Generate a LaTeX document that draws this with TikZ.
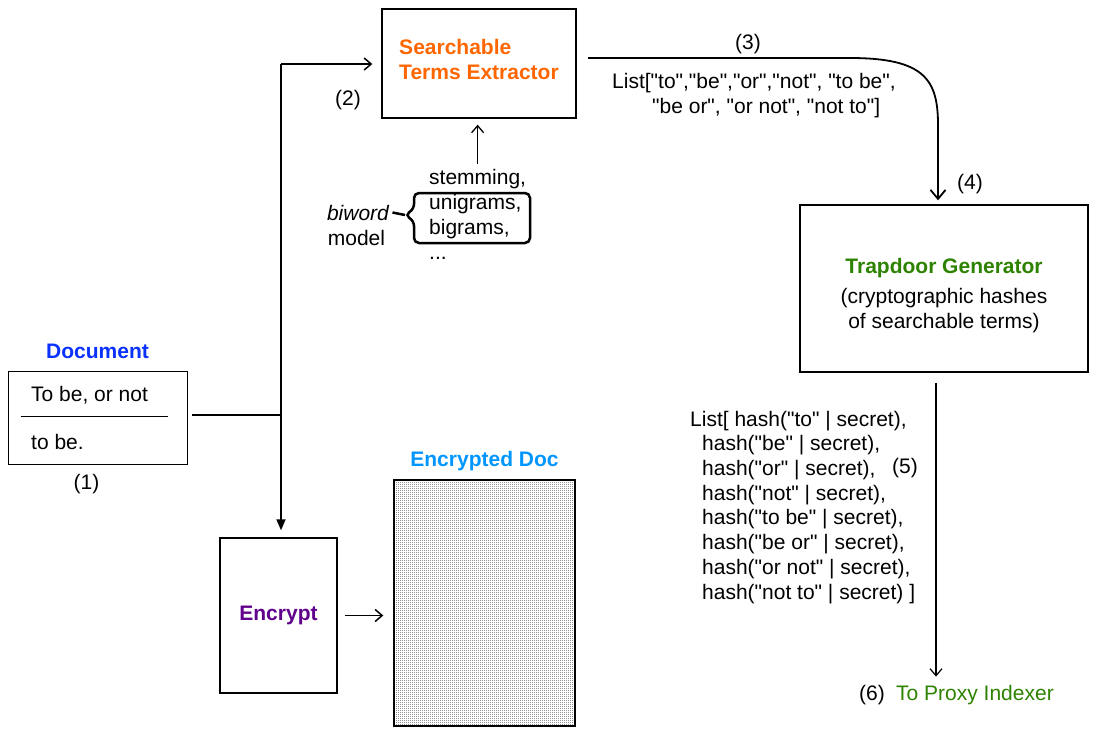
\documentclass[tikz,border=0pt]{standalone}
\usepackage{fontspec}
\setmainfont{Liberation Sans}[Ligatures=TeXOff]
\usepackage{tikz}
\usetikzlibrary{positioning}
\usetikzlibrary{arrows.meta}
\usetikzlibrary{patterns}

\definecolor{termorange}{RGB}{255,102,0}
\definecolor{docblue}{RGB}{10,50,255}
\definecolor{encblue}{RGB}{0,150,255}
\definecolor{encpurple}{RGB}{96,0,140}
\definecolor{trapgreen}{RGB}{45,130,0}
\newcommand{\diagfont}{\fontsize{21}{24.7}\selectfont}
\pgfdeclarepatternformonly{finedots}{\pgfqpoint{0pt}{0pt}}{\pgfqpoint{2pt}{2pt}}
  {\pgfqpoint{2pt}{2pt}}{\pgfpathrectangle{\pgfqpoint{0pt}{0pt}}{\pgfqpoint{1pt}{1pt}}\pgfusepath{fill}}

\begin{document}
\begin{tikzpicture}[x=1pt,y=-1pt,font=\diagfont,
  box/.style={draw,line width=1.4pt},
  flow/.style={line width=1.5pt},
  open/.style={-{Straight Barb[length=7pt,width=12pt]}},
  shut/.style={-{Triangle[length=11pt,width=9pt]}}]
\useasboundingbox (0,0) rectangle (1093,732);

% document and its split
\node (doc) at (97.5,417.5) [draw,line width=0.8pt,minimum width=179pt,minimum height=93pt]{};
\node (docname)[above = 8.5pt of doc,text=docblue,font=\diagfont\bfseries]{Document};
\node (line1) at (31,401) [anchor=base west,inner sep=0pt]{To be, or not};
\node (line2) at (31,449) [anchor=base west,inner sep=0pt]{to be.};
\draw [line width=0.8pt]([xshift=13pt,yshift=1.5pt]doc.west)--([xshift=-19pt,yshift=1.5pt]doc.east);
\node (one)[below = 6pt of doc,xshift=-11pt]{(1)};

\node (search) at (479,63.5) [box,minimum width=194pt,minimum height=109pt]{};
\node (searchtext) at ([yshift=4pt]search.center) [align=left,text=termorange,
  font=\diagfont\bfseries]{Searchable\\Terms Extractor};
\node (encrypt) at (278.5,615.5) [box,minimum width=117pt,minimum height=155pt,
  text=encpurple,font=\diagfont\bfseries]{Encrypt};
\node (encdoc) at (484.5,603) [box,minimum width=181pt,minimum height=246pt,pattern=finedots]{};
\node (encdocname)[above = 5pt of encdoc,text=encblue,font=\diagfont\bfseries]{Encrypted Doc};

\coordinate (split) at (281,415);
\coordinate (top) at (281,64);
\draw [flow,shorten <=5pt](doc.east |- split)--(split);
\draw [flow,shut,shorten >=7pt](top)--(top |- encrypt.north);
\draw [flow,open,shorten >=9pt](top)--(top -| search.west);
\node (two) at (348,105) [anchor=base]{(2)};
\draw [flow,open,shorten <=7pt,shorten >=10pt](encrypt.east)--(encrypt.east -| encdoc.west);

% options of the extractor
\node (opts) at (429,259) [anchor=base west,align=left,inner sep=0pt]{stemming,\\unigrams,\\bigrams,\\...};
\draw [line width=1.3pt,open,shorten <=5pt,shorten >=6pt](opts.north)--(opts.north |- search.south);
\node (biword) at (358,220) [anchor=base,font=\diagfont\itshape]{biword};
\node (model) at (356.5,245) [anchor=base]{model};
\coordinate (tip) at (405,215);
\draw [line width=2.5pt,rounded corners=5pt](tip)--(414,209)--(414,193)--(530,193)--(530,243)
  --(414,243)--(414,221)--cycle;
\draw [line width=2.5pt](biword.east)--(tip);

% trapdoor
\node (trap) at (944,288.5) [box,minimum width=288pt,minimum height=167pt]{};
\node (traptext) at ([yshift=-7pt]trap.center) [align=center]
  {\textcolor{trapgreen}{\bfseries Trapdoor Generator}\\[5pt](cryptographic hashes\\ of searchable terms)};
\coordinate (out3) at (588,58);
\draw [line width=1.8pt,-{Straight Barb[length=9pt,width=15pt]},shorten >=4pt](out3)--(850,58)
  .. controls (925,58) and (938,80) .. (938,125)--([xshift=-6pt]trap.north);
\node (three) at (748,49) [anchor=base]{(3)};
\node (list3) at (612,113) [anchor=base west,align=left,inner sep=0pt]
  {List["to","be","or","not", "to be",\\\hspace*{40pt}"be or", "or not", "not to"]};
\node (four) at (970,189) [anchor=base]{(4)};

% hashes to the indexer
\node (proxy) at (896,700) [anchor=base west,inner sep=0pt,text=trapgreen]{To Proxy Indexer};
\node (six) at (885,700) [anchor=base east,inner sep=0pt]{(6)};
\coordinate (out5) at ([xshift=-8pt,yshift=-10pt]trap.south);
\draw [line width=1.2pt,open,shorten >=8pt](out5)--(out5 |- proxy.north);
\node (five) at (905,473) [anchor=base]{(5)};
\node (hashes) at (690,599) [anchor=base west,align=left,inner sep=0pt]
  {List[ hash("to" | secret),\\
   \hspace*{12pt}hash("be" | secret),\\
   \hspace*{12pt}hash("or" | secret),\\
   \hspace*{12pt}hash("not" | secret),\\
   \hspace*{12pt}hash("to be" | secret),\\
   \hspace*{12pt}hash("be or" | secret),\\
   \hspace*{12pt}hash("or not" | secret),\\
   \hspace*{12pt}hash("not to" | secret) ]};

\end{tikzpicture}
\end{document}
